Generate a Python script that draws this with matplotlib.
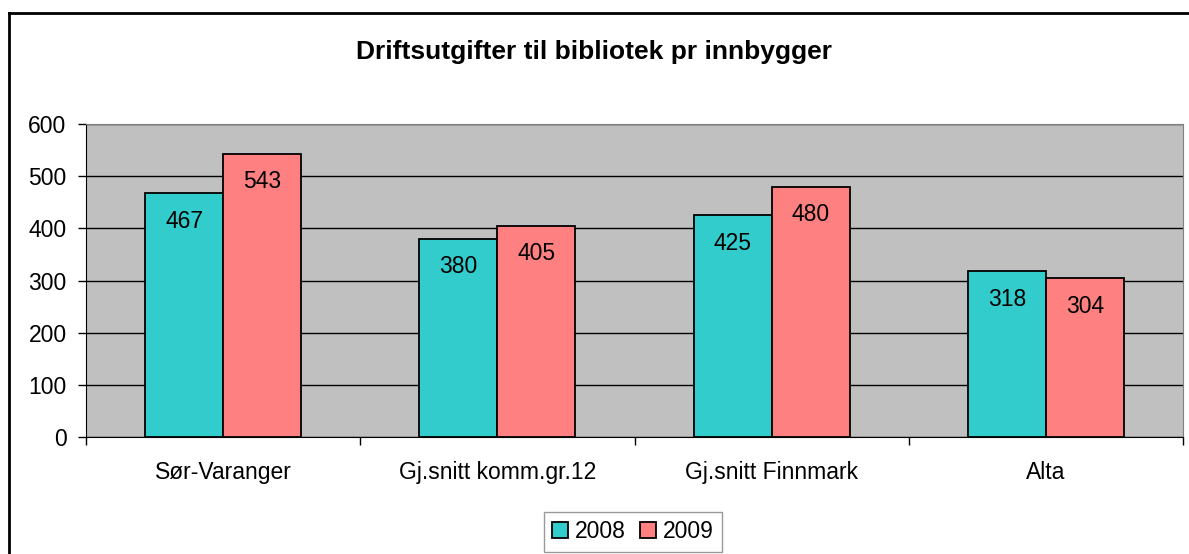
import numpy as np
import matplotlib.pyplot as plt
from matplotlib.lines import Line2D

plt.rcParams['font.family'] = ['Liberation Sans', 'DejaVu Sans']

kategorier = ['Sør-Varanger', 'Gj.snitt komm.gr.12', 'Gj.snitt Finnmark', 'Alta']
aar = ['2008', '2009']
verdier_2008 = [467, 380, 425, 318]
verdier_2009 = [543, 405, 480, 304]
farger = ['#33CCCC', '#FF8080']

fig = plt.figure(figsize=(11.89, 5.54), dpi=100)
ax = fig.add_axes([86 / 1189, 1 - 437 / 554, (1183 - 86) / 1189, (437 - 124) / 554])
ax.set_facecolor('#C0C0C0')

x = np.arange(len(kategorier))
bredde = 0.284
serier = [verdier_2008, verdier_2009]
for i, (verdier, farge) in enumerate(zip(serier, farger)):
    pos = x + (i - 0.5) * bredde
    ax.bar(pos, verdier, bredde, color=farge, edgecolor='black', linewidth=1.3,
           label=aar[i], zorder=3)
    for p, v in zip(pos, verdier):
        ax.text(p, v - 54, str(v), ha='center', va='center', fontsize=16.5, zorder=4)

ax.set_xlim(-0.5, len(kategorier) - 0.5)
ax.set_ylim(0, 600)
ax.set_yticks(range(0, 601, 100))
ax.yaxis.grid(True, color='black', linewidth=1)
ax.set_axisbelow(True)

ax.set_xticks(x)
ax.set_xticklabels(kategorier, fontsize=16.5)
ax.tick_params(axis='x', length=0, pad=17)
ax.set_xticks(np.arange(-0.5, len(kategorier)), minor=True)
ax.tick_params(axis='x', which='minor', length=6, width=1, direction='out')
ax.tick_params(axis='y', labelsize=16.5, length=6, width=1, direction='out', pad=8)

for s in ['top', 'right']:
    ax.spines[s].set_color('#808080')
for s in ['left', 'bottom']:
    ax.spines[s].set_color('black')

fig.text(594 / 1189, 1 - 52 / 554, 'Driftsutgifter til bibliotek pr innbygger',
         ha='center', va='center', fontsize=19, fontweight='bold')

handles = [Line2D([], [], marker='s', linestyle='none', markersize=12,
                  markerfacecolor=f, markeredgecolor='black', markeredgewidth=1.3)
           for f in farger]
fig.legend(handles, aar, loc='center', bbox_to_anchor=(633 / 1189, 1 - 532 / 554),
           ncol=2, fontsize=16.5, frameon=True, fancybox=False, edgecolor='#808080',
           handlelength=0.7, handletextpad=0.3, columnspacing=0.6, borderpad=0.35)

# rammen rundt figuren
fig.add_artist(Line2D([8.5 / 1189, 8.5 / 1189], [0, 1 - 12.5 / 554], color='black',
                      linewidth=2, transform=fig.transFigure))
fig.add_artist(Line2D([8.5 / 1189, 1], [1 - 12.5 / 554, 1 - 12.5 / 554], color='black',
                      linewidth=2, transform=fig.transFigure))

fig.savefig('out.png', dpi=100)
